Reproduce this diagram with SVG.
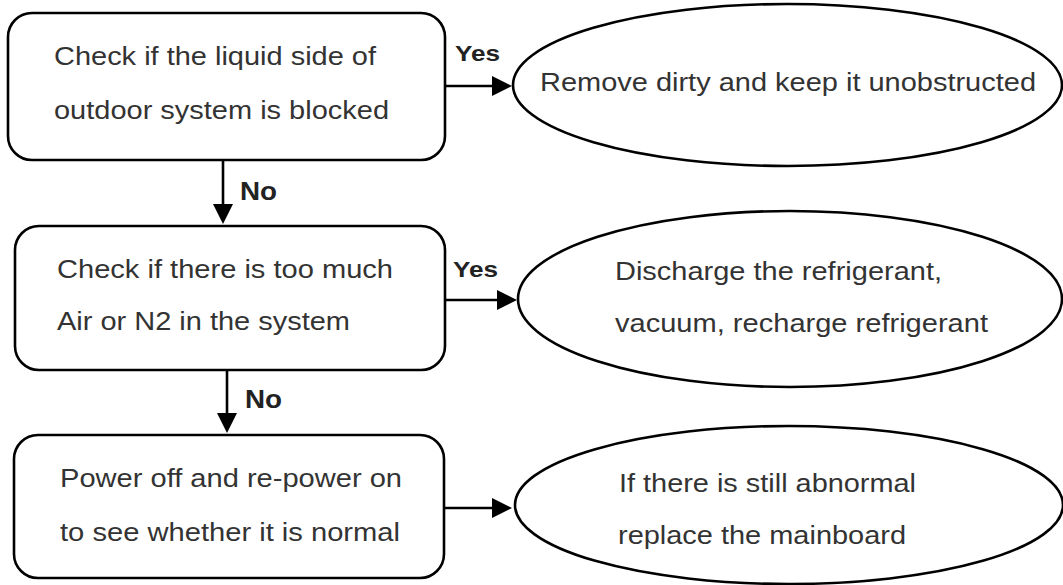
<svg xmlns="http://www.w3.org/2000/svg" width="1063" height="585" viewBox="0 0 1063 585">
  <style>
    .box { fill: #ffffff; stroke: #000000; stroke-width: 2.6; }
    .ell { fill: #ffffff; stroke: #000000; stroke-width: 2.6; }
    .txt { font-family: "Liberation Sans", Arial, sans-serif; font-size: 26px; fill: #333333; }
    .lbl { font-family: "Liberation Sans", Arial, sans-serif; font-weight: bold; fill: #222222; }
    .conn { stroke: #000000; stroke-width: 2.6; fill: none; marker-end: url(#arrow); }
  </style>
  <defs>
    <marker id="arrow" markerUnits="userSpaceOnUse" markerWidth="20" markerHeight="20" refX="2" refY="10" orient="auto">
      <path d="M0,0 L20,10 L0,20 Z" fill="#000000"/>
    </marker>
  </defs>
  <rect width="1063" height="585" fill="#ffffff"/>

  <g id="connectors">
    <line class="conn" x1="445" y1="86" x2="494" y2="86"/>
    <line class="conn" x1="223" y1="160" x2="223" y2="206"/>
    <line class="conn" x1="445" y1="300" x2="499" y2="300"/>
    <line class="conn" x1="227" y1="370" x2="227" y2="415"/>
    <line class="conn" x1="444" y1="508" x2="494" y2="508"/>
    <text class="lbl" x="455" y="61" font-size="22.5" textLength="45" lengthAdjust="spacingAndGlyphs">Yes</text>
    <text class="lbl" x="240" y="200" font-size="25" textLength="37" lengthAdjust="spacingAndGlyphs">No</text>
    <text class="lbl" x="453" y="277" font-size="22.5" textLength="45" lengthAdjust="spacingAndGlyphs">Yes</text>
    <text class="lbl" x="245" y="408" font-size="25" textLength="37" lengthAdjust="spacingAndGlyphs">No</text>
  </g>

  <g id="node-check-liquid">
    <rect class="box" x="8" y="13" width="437" height="147" rx="24" ry="24"/>
    <text class="txt" x="54" y="65" textLength="322" lengthAdjust="spacingAndGlyphs">Check if the liquid side of</text>
    <text class="txt" x="54" y="119" textLength="335" lengthAdjust="spacingAndGlyphs">outdoor system is blocked</text>
  </g>

  <g id="node-remove-dirty">
    <ellipse class="ell" cx="787.5" cy="85" rx="274.5" ry="81"/>
    <text class="txt" x="540" y="91" textLength="496" lengthAdjust="spacingAndGlyphs">Remove dirty and keep it unobstructed</text>
  </g>

  <g id="node-check-air">
    <rect class="box" x="15" y="226" width="430" height="144" rx="24" ry="24"/>
    <text class="txt" x="57" y="278" textLength="336" lengthAdjust="spacingAndGlyphs">Check if there is too much</text>
    <text class="txt" x="57" y="330" textLength="293" lengthAdjust="spacingAndGlyphs">Air or N2 in the system</text>
  </g>

  <g id="node-discharge">
    <ellipse class="ell" cx="790" cy="299" rx="272" ry="88"/>
    <text class="txt" x="615" y="280" textLength="327" lengthAdjust="spacingAndGlyphs">Discharge the refrigerant,</text>
    <text class="txt" x="615" y="332" textLength="373" lengthAdjust="spacingAndGlyphs">vacuum, recharge refrigerant</text>
  </g>

  <g id="node-power-off">
    <rect class="box" x="14" y="435" width="430" height="143" rx="24" ry="24"/>
    <text class="txt" x="60" y="487" textLength="342" lengthAdjust="spacingAndGlyphs">Power off and re-power on</text>
    <text class="txt" x="60" y="541" textLength="340" lengthAdjust="spacingAndGlyphs">to see whether it is normal</text>
  </g>

  <g id="node-replace-mainboard">
    <ellipse class="ell" cx="789" cy="505" rx="274" ry="79"/>
    <text class="txt" x="619" y="492" textLength="297" lengthAdjust="spacingAndGlyphs">If there is still abnormal</text>
    <text class="txt" x="618" y="544" textLength="288" lengthAdjust="spacingAndGlyphs">replace the mainboard</text>
  </g>
</svg>
